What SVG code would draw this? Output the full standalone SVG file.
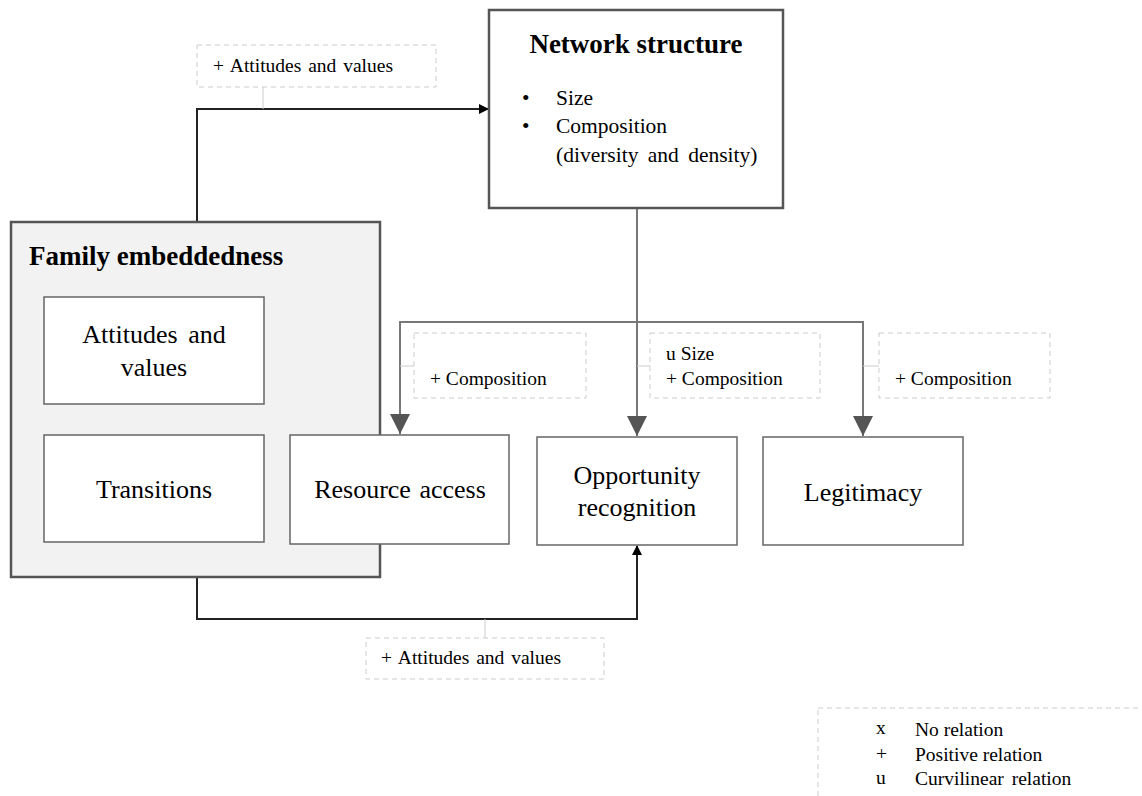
<svg xmlns="http://www.w3.org/2000/svg" width="1142" height="796" viewBox="0 0 1142 796">
<style>
text{font-family:"Liberation Serif","Times New Roman",serif;fill:#000}
.box{fill:#fff;stroke:#666;stroke-width:1.5}
.main{fill:#fff;stroke:#555;stroke-width:2.5}
.lbl{fill:#fff;stroke:#ccc;stroke-width:1;stroke-dasharray:5 4}
.t26{font-size:26px}
.t27{font-size:27px}
.t21{font-size:21.5px}
.t19{font-size:19.5px}
.b{font-weight:bold}
.blk{fill:none;stroke:#222;stroke-width:2}
.gry{fill:none;stroke:#777;stroke-width:2}
.thin{fill:none;stroke:#ccc;stroke-width:1}
</style>
<defs>
<marker id="ab" markerWidth="10" markerHeight="10" refX="9" refY="5" orient="auto" markerUnits="userSpaceOnUse" viewBox="0 0 10 10"><path d="M0,0 L10,5 L0,10 z" fill="#000"/></marker>
<marker id="ag" markerWidth="20" markerHeight="22" refX="20" refY="10" orient="auto" markerUnits="userSpaceOnUse" viewBox="0 0 20 20"><path d="M0,0 L20,10 L0,20 z" fill="#555"/></marker>
</defs>
<g id="connectors">
<path class="blk" d="M197,222 V109 H488" marker-end="url(#ab)"/>
<path class="thin" d="M263,87 V109"/>
<path class="blk" d="M197,577 V619 H637 V546" marker-end="url(#ab)"/>
<path class="thin" d="M485,619 V638"/>
<path class="gry" d="M637,208 V436" marker-end="url(#ag)"/>
<path class="gry" d="M637,322 H400 V434" marker-end="url(#ag)"/>
<path class="gry" d="M637,322 H863 V436" marker-end="url(#ag)"/>
<path class="thin" d="M400,366 H414 M637,366 H650 M863,366 H879"/>
</g>
<g id="network-structure">
<rect class="main" x="489" y="10" width="294" height="198"/>
<text class="t27 b" x="636" y="53" text-anchor="middle">Network structure</text>
<text class="t21" x="522" y="105">•</text><text class="t21" x="556" y="105">Size</text>
<text class="t21" x="522" y="133">•</text><text class="t21" x="556" y="133">Composition</text>
<text class="t21" x="556" y="162" word-spacing="4">(diversity and density)</text>
</g>
<g id="family-embeddedness">
<rect x="11" y="222" width="369" height="355" fill="#f2f2f2" stroke="#555" stroke-width="2.5"/>
<text class="t27 b" x="29" y="265">Family embeddedness</text>
</g>
<g id="attitudes-values">
<rect class="box" x="44" y="297" width="220" height="107"/>
<text class="t26" x="154" y="343" text-anchor="middle" word-spacing="4">Attitudes and</text>
<text class="t26" x="154" y="376" text-anchor="middle">values</text>
</g>
<g id="transitions">
<rect class="box" x="44" y="435" width="220" height="107"/>
<text class="t26" x="154" y="498" text-anchor="middle">Transitions</text>
</g>
<g id="resource-access">
<rect class="box" x="290" y="435" width="219" height="109"/>
<text class="t26" x="400" y="498" text-anchor="middle" word-spacing="2">Resource access</text>
</g>
<g id="opportunity-recognition">
<rect class="box" x="537" y="437" width="200" height="108"/>
<text class="t26" x="637" y="484" text-anchor="middle">Opportunity</text>
<text class="t26" x="637" y="516" text-anchor="middle">recognition</text>
</g>
<g id="legitimacy">
<rect class="box" x="763" y="437" width="200" height="108"/>
<text class="t26" x="863" y="501" text-anchor="middle">Legitimacy</text>
</g>
<g id="label-top">
<rect class="lbl" x="197" y="45" width="239" height="42"/>
<text class="t19" x="213" y="72" word-spacing="2">+ Attitudes and values</text>
</g>
<g id="label-resource">
<rect class="lbl" x="414" y="333" width="172" height="65"/>
<text class="t19" x="430" y="385">+ Composition</text>
</g>
<g id="label-opportunity">
<rect class="lbl" x="650" y="333" width="170" height="65"/>
<text class="t19" x="666" y="360">u Size</text>
<text class="t19" x="666" y="385">+ Composition</text>
</g>
<g id="label-legitimacy">
<rect class="lbl" x="879" y="333" width="171" height="65"/>
<text class="t19" x="895" y="385">+ Composition</text>
</g>
<g id="label-bottom">
<rect class="lbl" x="366" y="638" width="238" height="41"/>
<text class="t19" x="381" y="664" word-spacing="2">+ Attitudes and values</text>
</g>
<g id="legend">
<rect class="lbl" x="818" y="708" width="340" height="100"/>
<text class="t19" x="876" y="734">x</text><text class="t19" x="915" y="736">No relation</text>
<text class="t19" x="876" y="760">+</text><text class="t19" x="915" y="761">Positive  relation</text>
<text class="t19" x="876" y="784">u</text><text class="t19" x="915" y="785" word-spacing="3">Curvilinear relation</text>
</g>
</svg>
